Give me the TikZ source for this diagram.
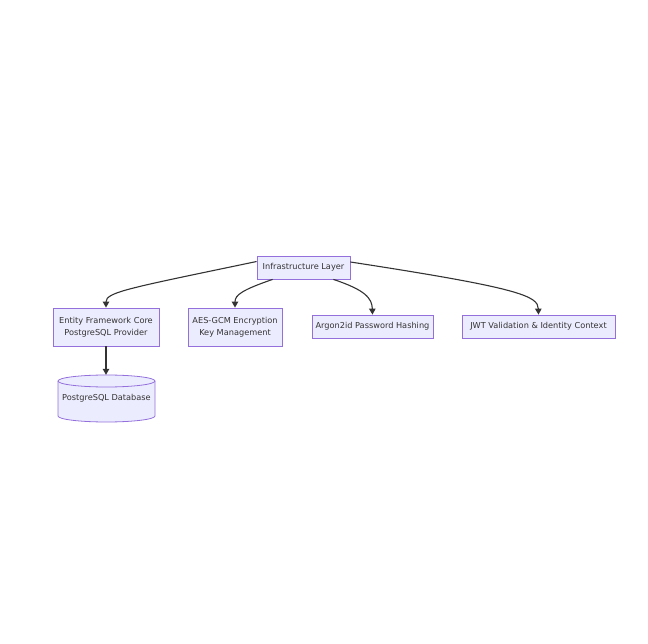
\documentclass[tikz,border=0pt]{standalone}
\usepackage{fontspec}
\setmainfont{DejaVu Sans}
\usetikzlibrary{arrows.meta}
\definecolor{boxfill}{HTML}{ECECFF}
\definecolor{boxline}{HTML}{9370DB}
\definecolor{txt}{HTML}{333333}
\tikzset{
  box/.style={draw=boxline, fill=boxfill, line width=0.8pt, align=center, text=txt, font=\fontsize{8.2}{12.5}\selectfont, inner sep=0pt},
  link/.style={draw=txt, line width=1.1pt, -{Triangle[length=6pt,width=6.5pt]}},
  dblabel/.style={align=center, text=txt, font=\fontsize{8.2}{12.5}\selectfont, inner sep=0pt}
}
\begin{document}
\begin{tikzpicture}[x=1pt,y=-1pt]
\useasboundingbox (0,0) rectangle (648,644);
\node[box, minimum width=93pt, minimum height=23pt] (infra) at (303.5,267.5) {Infrastructure Layer};
\node[box, minimum width=106pt, minimum height=38pt] (ef) at (106,327) {Entity Framework Core\\PostgreSQL Provider};
\node[box, minimum width=94pt, minimum height=38pt] (aes) at (235,327) {AES-GCM Encryption\\Key Management};
\node[box, minimum width=121pt, minimum height=23pt] (argon) at (372.5,326.5) {Argon2id Password Hashing};
\node[box, minimum width=153pt, minimum height=23pt] (jwt) at (538.5,326.5) {JWT Validation \& Identity Context};
% cylinder
\draw[draw=boxline, fill=boxfill, line width=0.8pt]
  (58,381) -- (58,416) arc[start angle=180, end angle=360, x radius=48.5pt, y radius=6pt]
  -- (155,381) arc[start angle=0, end angle=180, x radius=48.5pt, y radius=6pt] -- cycle;
\draw[draw=boxline, line width=0.8pt] (58,381) arc[start angle=180, end angle=360, x radius=48.5pt, y radius=6pt];
\node[dblabel, minimum width=97pt, minimum height=47pt] (db) at (106.5,398.5) {PostgreSQL Database};
\coordinate (s1) at ([yshift=6pt]infra.west);
\coordinate (s2) at ([xshift=16pt]infra.south west);
\coordinate (s3) at ([xshift=-17pt]infra.south east);
\coordinate (s4) at ([yshift=5.5pt]infra.east);
\draw[link] (s1) .. controls (130,288) and (106,292) .. (ef.north);
\draw[link] (s2) .. controls (242,290) and (235,295) .. (aes.north);
\draw[link] (s3) .. controls (365,290) and (372,298) .. (argon.north);
\draw[link] (s4) .. controls (520,288) and (538,296) .. (jwt.north);
\draw[link] (ef.south) -- ([xshift=-0.5pt]db.north);
\end{tikzpicture}
\end{document}
